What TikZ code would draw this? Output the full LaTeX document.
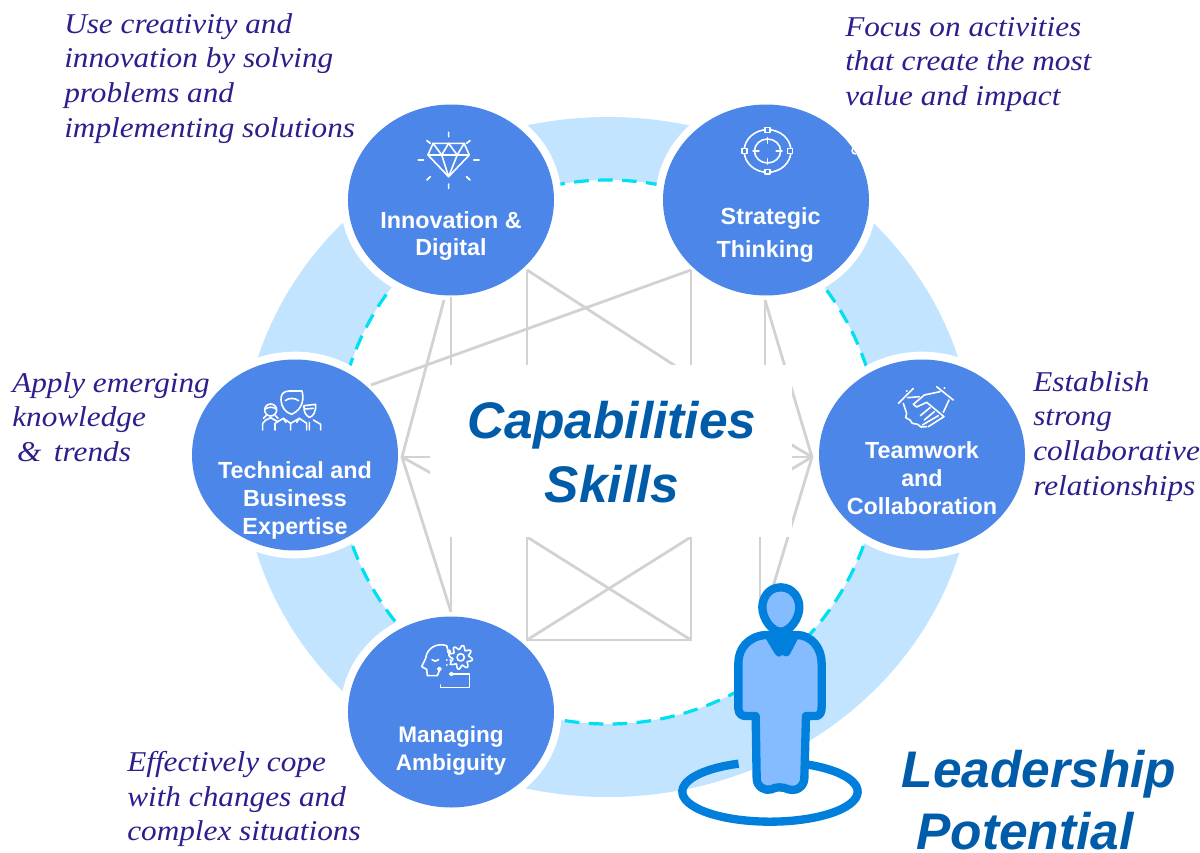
\documentclass[tikz,border=0pt]{standalone}
\usepackage{fontspec}
\setmainfont{Liberation Sans}
\newfontfamily\noteserif[FakeStretch=1.09]{Liberation Serif}
\usetikzlibrary{shapes.geometric}
\definecolor{band}{HTML}{C3E4FF}
\definecolor{dashc}{HTML}{00E0F0}
\definecolor{discblue}{HTML}{4C86E8}
\definecolor{grayl}{HTML}{D2D2D2}
\definecolor{navy}{HTML}{005CA8}
\definecolor{indigo}{HTML}{2A1F8C}
\definecolor{pstroke}{HTML}{0080DC}
\definecolor{pfill}{HTML}{85BCFF}
\tikzset{
  halo/.style={ellipse,minimum width=166pt,minimum height=155pt,inner sep=0,fill=white},
  disclabel/.style={text=white,font=\fontsize{17.5pt}{21pt}\selectfont\bfseries,align=center,inner sep=0},
  notetext/.style={text=indigo,font=\noteserif\itshape\fontsize{21.5pt}{26pt}\selectfont,align=left,anchor=north west,inner sep=0},
  bigtext/.style={text=navy,font=\fontsize{38.6pt}{46pt}\selectfont\bfseries\itshape,align=center,inner sep=0},
  gl/.style={draw=grayl,line width=2.1pt},
  ic/.style={draw=white,line width=1.2pt,line cap=round,line join=round},
  pers/.style={draw=pstroke,line width=6.25pt,line join=round,line cap=round},
}
\begin{document}
\begin{tikzpicture}[x=0.75pt,y=-0.75pt]
\useasboundingbox (0,0) rectangle (1200,853);
% ring
\fill[band,even odd rule] (608,457) ellipse [x radius=366,y radius=340] (608,452) circle [radius=272];
\draw[dashc,line width=2.4pt,dash pattern=on 11pt off 7pt] (608,452) circle [radius=272];
% white halos round the discs
\foreach \cx/\cy in {451/200,766/200,922/455,295/455,451/712}{
  \node[halo] at (\cx,\cy) {};
}
% grey connectors
\coordinate (tl) at (527,270); \coordinate (tr) at (691,270);
\coordinate (bl) at (527,640); \coordinate (br) at (691,640);
\coordinate (ml) at (527,537); \coordinate (mr) at (691,537);
\coordinate (la) at (402,457); \coordinate (ra) at (812,457);
\draw[gl] (tl) -- (527,400);
\draw[gl] (tr) -- (691,400);
\draw[gl] (tl) -- (691,376);
\draw[gl] (tr) -- (371,385);
\draw[gl] (ml) -- (bl) -- (br) -- (mr);
\draw[gl] (ml) -- (br);
\draw[gl] (mr) -- (bl);
\draw[gl] (451,297) -- (451,400);
\draw[gl] (451,612) -- (451,500);
\draw[gl] (444,300) -- (la) -- (451,612);
\draw[gl] (la) -- (440,457);
\draw[gl] (la) -- (440,478);
\draw[gl] (765,300) -- (765,400);
\draw[gl] (765,300) -- (ra) -- (772,590);
\draw[gl] (760,500) -- (760,600);
\draw[gl] (ra) -- (780,457);
\draw[gl] (ra) -- (780,438);
\draw[gl] (ra) -- (780,476);
\fill[white] (430,365) rectangle (792,537);
% discs
\foreach \cx/\cy in {451/200,766/200,922/455,295/455,451/712}{
  \fill[discblue] (\cx,\cy) ellipse [x radius=103,y radius=95.5];
}
% icons: diamond and target
\begin{scope}[shift={(340,90)},x=0.2586pt,y=-0.25pt]
  \draw[ic] (270,160) -- (360,160) -- (375,195) -- (315,260) -- (255,195) -- cycle;
  \draw[ic] (270,160) -- (295,195) -- (315,160) -- (340,195) -- (360,160);
  \draw[ic] (255,195) -- (375,195);
  \draw[ic] (295,195) -- (315,260) -- (340,195);
  \draw[ic,line width=1.3pt] (315,127) -- (315,140) (315,282) -- (315,295) (227,210) -- (242,210) (388,210) -- (403,210)
    (252,152) -- (262,160) (377,152) -- (367,160) (252,270) -- (262,260) (377,270) -- (367,260);
  \draw[ic] (1240,183) ellipse [x radius=68,y radius=64];
  \draw[ic] (1240,183) ellipse [x radius=38,y radius=36];
  \draw[ic] (1240,143) -- (1240,160) (1240,206) -- (1240,222) (1198,183) -- (1215,183) (1265,183) -- (1282,183);
  \foreach \qx/\qy in {1240/120,1240/245,1173/183,1305/183}{
    \filldraw[ic,fill=discblue] (\qx-7,\qy-7) rectangle (\qx+7,\qy+7);
  }
  \draw[ic] (1495,172) arc [start angle=-90,end angle=-270,radius=10];
\end{scope}
% icon: people
\begin{scope}[shift={(250,385)},x=0.25pt,y=-0.25pt]
  \draw[ic] (93,45) .. controls (92,28) and (100,18) .. (118,18) -- (156,18) .. controls (162,40) and (160,72) .. (125,88) .. controls (105,82) and (94,65) .. (93,45) -- cycle;
  \draw[ic] (106,47) .. controls (115,38) and (135,38) .. (146,47);
  \draw[ic] (75,135) -- (75,115) -- (100,100) -- (122,115) -- (148,100) -- (170,115) -- (170,135);
  \draw[ic] (122,115) -- (122,135) (100,100) -- (108,112) (148,100) -- (140,112);
  \draw[ic] (62,75) circle [radius=18];
  \draw[ic] (46,72) .. controls (55,65) and (70,65) .. (78,72);
  \draw[ic] (38,135) -- (38,115) .. controls (42,105) and (50,105) .. (62,98) .. controls (70,104) and (78,106) .. (84,110);
  \draw[ic] (48,92) -- (40,100) (76,92) -- (84,100);
  \draw[ic] (162,62) -- (197,58) .. controls (198,80) and (190,95) .. (178,97) .. controls (168,92) and (160,80) .. (162,62) -- cycle;
  \draw[ic] (165,72) -- (190,70);
  \draw[ic] (178,135) -- (178,112) (212,135) -- (212,118) -- (190,105);
\end{scope}
% icon: head and gear
\begin{scope}[shift={(410,635)},x=0.25pt,y=-0.25pt]
  \draw[ic] (113,44) -- (110,32) .. controls (80,22) and (50,40) .. (47,70) -- (35,95) -- (50,103) -- (52,122) -- (82,122) -- (88,107);
  \draw[ic] (117,50) circle [radius=5] (88,102) circle [radius=5] (124,117) circle [radius=5];
  \draw[ic] (129,117) -- (178,117) -- (178,158) -- (92,158) -- (92,150);
  \draw[ic] (66,74) .. controls (72,80) and (80,80) .. (86,74);
  \draw[ic] (110,75) -- (111,75) (120,75) -- (121,75) (110,90) -- (111,90) (120,88) -- (121,88);
  \draw[ic] (152,67) circle [radius=11];
  \draw[ic,shift={(152,67)}] plot[domain=0:360,samples=97,smooth] (\x:{30+6*sin(8*\x)}) -- cycle;
\end{scope}
% icon: handshake
\begin{scope}[shift={(885,375)},x=0.25pt,y=-0.25pt]
  \draw[ic] (40,85) -- (85,40) (155,35) -- (205,75);
  \draw[ic,line width=1.3pt] (65,48) -- (66,48) (178,40) -- (179,40);
  \draw[ic] (55,85) -- (65,115) -- (62,128) -- (75,135) -- (82,145) -- (98,148) -- (108,156) -- (125,155);
  \draw[ic] (68,68) -- (103,65);
  \draw[ic] (165,50) -- (118,60) -- (85,88) -- (95,96) -- (125,82) -- (177,125) -- (172,128);
  \draw[ic] (192,75) -- (175,112);
  \draw[ic] (172,128) -- (130,155) (160,122) -- (112,150) (148,110) -- (118,135) (135,98) -- (106,122);
\end{scope}
% person
\begin{scope}[shift={(660,520)},x=0.25pt,y=-0.25pt]
  \draw[pers,line cap=butt] (330,815) ++(-111:263 and 90) arc [start angle=-111,end angle=-424,x radius=263,y radius=90];
  \filldraw[pers,fill=pfill] (315,345) .. controls (265,350) and (235,385) .. (235,430) -- (235,565)
     .. controls (235,585) and (250,590) .. (265,588) -- (287,588) -- (290,775)
     .. controls (290,800) and (315,815) .. (335,808) .. controls (345,800) and (370,800) .. (385,808)
     .. controls (410,815) and (432,800) .. (433,775) -- (438,588) -- (470,588)
     .. controls (482,585) and (485,575) .. (485,560) -- (485,430)
     .. controls (485,385) and (455,345) .. (410,345) -- cycle;
  \fill[pstroke] (305,335) -- (345,402) .. controls (352,412) and (362,412) .. (367,404) .. controls (375,412) and (385,410) .. (390,402) -- (425,335) -- cycle;
  \filldraw[pers,fill=pfill] (362,202) .. controls (400,202) and (418,235) .. (418,262) .. controls (418,295) and (390,335) .. (362,335)
     .. controls (335,335) and (307,295) .. (307,262) .. controls (307,235) and (325,202) .. (362,202) -- cycle;
\end{scope}
% labels
\node[disclabel,font=\fontsize{17.5pt}{20.3pt}\selectfont\bfseries] (innov) at (451,236) {Innovation \&\\Digital};
\node[disclabel,font=\fontsize{17.5pt}{24.7pt}\selectfont\bfseries] (strat) at (768,235) {\hspace*{4pt}Strategic\\Thinking\hspace*{4pt}};
\node[disclabel] (team) at (922,478) {Teamwork\\and\\Collaboration};
\node[disclabel] (tech) at (295,500) {Technical and\\Business\\Expertise};
\node[disclabel,font=\fontsize{16.9pt}{21pt}\selectfont\bfseries] (amb) at (451,751) {Managing\\Ambiguity};
% center text
\node[bigtext] (capab) at (612,452) {Capabilities\\[2pt]Skills};
\node[bigtext] (lead) at (1039,800) {Leadership\\\hspace*{-21pt}Potential};
% notes
\node[notetext] (n1) at (64,13) {Use creativity and\\innovation by solving\\problems and\\implementing solutions};
\node[notetext] (n2) at (845,17) {Focus on activities\\that create the most\\value and impact};
\node[notetext] (n3) at (12,372) {Apply emerging\\knowledge\\ \,\& \,trends};
\node[notetext] (n4) at (1033,371) {Establish\\strong\\collaborative\\relationships};
\node[notetext] (n5) at (127,751) {Effectively cope\\with changes and\\complex situations};
\end{tikzpicture}
\end{document}
